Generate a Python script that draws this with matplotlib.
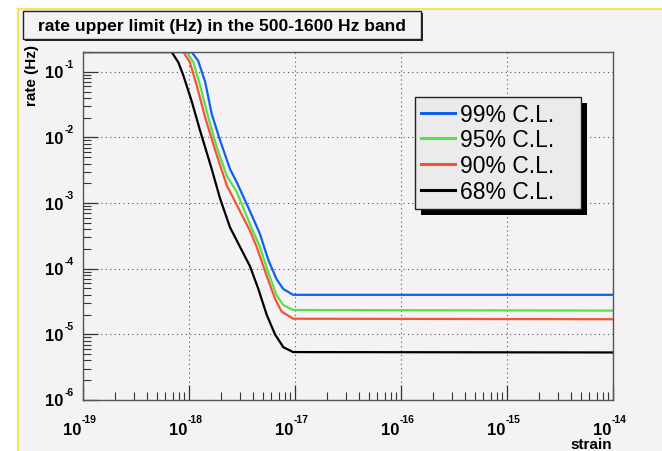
import matplotlib
matplotlib.use("Agg")
import matplotlib.pyplot as plt
from matplotlib.patches import Rectangle
from matplotlib.lines import Line2D
from matplotlib.ticker import LogLocator, NullFormatter, FixedLocator

plt.rcParams['font.family'] = ['Liberation Sans', 'DejaVu Sans']

# Upper limit curves: strain amplitude vs. event rate (Hz)
strain_99 = [1e-19, 1.06e-18, 1.22e-18, 1.42e-18, 1.64e-18, 1.96e-18, 2.44e-18, 2.82e-18,
             3.76e-18, 4.67e-18, 5.6e-18, 6.71e-18, 7.76e-18, 9.6e-18, 1.05e-17, 1e-14]
rate_99 = [0.2, 0.2, 0.147, 0.0703, 0.0226, 9.1e-3, 3.28e-3, 2.08e-3,
           7.5e-4, 3.39e-4, 1.36e-4, 6.9e-5, 4.9e-5, 4.0e-5, 4.0e-5, 4.0e-5]

strain_95 = [1e-19, 9.51e-19, 1.10e-18, 1.27e-18, 1.52e-18, 1.82e-18, 2.27e-18, 2.82e-18,
             3.76e-18, 4.67e-18, 5.6e-18, 6.71e-18, 7.76e-18, 9.6e-18, 1e-14]
rate_95 = [0.2, 0.2, 0.139, 0.0628, 0.0202, 7.26e-3, 2.61e-3, 1.48e-3,
           4.76e-4, 2.15e-4, 8.68e-5, 3.92e-5, 2.79e-5, 2.35e-5, 2.3e-5]

strain_90 = [1e-19, 8.84e-19, 1.02e-18, 1.18e-18, 1.42e-18, 1.76e-18, 2.27e-18, 2.82e-18,
             3.76e-18, 4.35e-18, 5.41e-18, 6.48e-18, 7.48e-18, 9.6e-18, 1e-14]
rate_90 = [0.2, 0.2, 0.139, 0.0628, 0.0202, 6.48e-3, 1.86e-3, 9.4e-4,
           3.79e-4, 2.15e-4, 7.74e-5, 3.49e-5, 2.22e-5, 1.73e-5, 1.7e-5]

strain_68 = [1e-19, 6.86e-19, 7.93e-19, 8.84e-19, 1.06e-18, 1.27e-18, 1.64e-18, 1.96e-18,
             2.44e-18, 3.03e-18, 3.76e-18, 4.51e-18, 5.41e-18, 6.48e-18, 7.76e-18, 9.6e-18, 1e-14]
rate_68 = [0.2, 0.2, 0.139, 0.0882, 0.0356, 0.0128, 3.28e-3, 1.18e-3,
           4.25e-4, 2.15e-4, 1.09e-4, 4.91e-5, 1.98e-5, 1.0e-5, 6.37e-6, 5.37e-6, 5.3e-6]

labels = ["99% C.L.", "95% C.L.", "90% C.L.", "68% C.L."]
colors = ["#1060f0", "#58e048", "#f25535", "#000000"]

# decade ticks (exponents of ten)
x_exponents = [-19, -18, -17, -16, -15, -14]
y_exponents = [-6, -5, -4, -3, -2, -1]

title = "rate upper limit (Hz) in the 500-1600 Hz band"
xlabel = "strain"
ylabel = "rate (Hz)"

W, H = 662, 452
fig = plt.figure(figsize=(W / 100, H / 100), dpi=100, facecolor="white")

bg = "#f4f2f5"
# canvas pad with yellow top/left border
fig.patches.append(Rectangle((18 / W, 0), 1 - 18 / W, 1 - 10 / H, transform=fig.transFigure,
                             facecolor=bg, edgecolor="none", zorder=-5))
fig.add_artist(Line2D([18 / W, 18 / W], [0, 1 - 10 / H], color="#f7e65a", lw=1.6,
                      transform=fig.transFigure, zorder=-4))
fig.add_artist(Line2D([18 / W, 1], [1 - 10 / H, 1 - 10 / H], color="#f7e65a", lw=1.6,
                      transform=fig.transFigure, zorder=-4))

ax = fig.add_axes([83 / W, 1 - 401 / H, (613 - 83) / W, (401 - 53) / H])
ax.set_facecolor(bg)

series = [(strain_99, rate_99), (strain_95, rate_95), (strain_90, rate_90), (strain_68, rate_68)]
for (sx, sy), lab, c in zip(series, labels, colors):
    ax.plot(sx, sy, color=c, lw=1.6, label=lab, solid_joinstyle="round")

ax.set_xscale("log")
ax.set_yscale("log")
ax.set_xlim(1e-19, 1e-14)
ax.set_ylim(1e-6, 0.2)

xmajor = [10.0 ** e for e in x_exponents]
ymajor = [10.0 ** e for e in y_exponents]
ax.xaxis.set_major_locator(FixedLocator(xmajor))
ax.yaxis.set_major_locator(FixedLocator(ymajor))
ax.xaxis.set_minor_locator(LogLocator(base=10, subs=range(2, 10), numticks=20))
ax.yaxis.set_minor_locator(LogLocator(base=10, subs=range(2, 10), numticks=20))
for axis in (ax.xaxis, ax.yaxis):
    axis.set_major_formatter(NullFormatter())
    axis.set_minor_formatter(NullFormatter())

ax.tick_params(which="major", direction="in", length=11, width=0.9, color="#333333",
               top=False, right=False)
ax.tick_params(which="minor", direction="in", length=5.5, width=0.8, color="#333333",
               top=False, right=False)

# ROOT-style power-of-ten labels: large "10" with a raised small exponent
base_kw = dict(fontsize=12, fontweight="bold", annotation_clip=False)
exp_kw = dict(fontsize=7.5, fontweight="bold", annotation_clip=False)
for e, v in zip(x_exponents, xmajor):
    ax.annotate("10", xy=(v, 0), xycoords=("data", "axes fraction"),
                xytext=(-2, -22), textcoords="offset pixels", ha="right", va="top", **base_kw)
    ax.annotate(str(e), xy=(v, 0), xycoords=("data", "axes fraction"),
                xytext=(-1, -22), textcoords="offset pixels", ha="left", va="baseline", **exp_kw)
for e, v in zip(y_exponents, ymajor):
    ax.annotate("10", xy=(0, v), xycoords=("axes fraction", "data"),
                xytext=(-20, -1), textcoords="offset pixels", ha="right", va="center", **base_kw)
    ax.annotate(str(e), xy=(0, v), xycoords=("axes fraction", "data"),
                xytext=(-18, 5), textcoords="offset pixels", ha="left", va="baseline", **exp_kw)

ax.grid(True, which="major", linestyle=(0, (1, 3)), color="#555555", lw=0.8)
for sp in ax.spines.values():
    sp.set_color("#555555")
    sp.set_linewidth(1.0)

fig.text(612 / W, 1 - 449 / H, xlabel, ha="right", va="baseline", fontsize=11,
         fontweight="bold")
fig.text(32 / W, 1 - 45 / H, ylabel, ha="center", va="top", rotation=90, fontsize=11,
         fontweight="bold")

# title box with shadow
tx0, tx1, ty0, ty1 = 23, 421, 12, 40
fig.patches.append(Rectangle(((tx0 + 2) / W, 1 - (ty1 + 2) / H), (tx1 - tx0) / W,
                             (ty1 - ty0) / H, transform=fig.transFigure,
                             facecolor="#222222", edgecolor="none", zorder=2))
fig.patches.append(Rectangle((tx0 / W, 1 - ty1 / H), (tx1 - tx0) / W, (ty1 - ty0) / H,
                             transform=fig.transFigure, facecolor=bg, edgecolor="#222222",
                             lw=1.0, zorder=3))
fig.text((tx0 + tx1) / 2 / W, 1 - (ty0 + ty1) / 2 / H, title, ha="center", va="center",
         fontsize=12.6, fontweight="bold", zorder=4)

lx0 = (415 - 83) / 530
ly1 = 1 - (98 - 53) / 348
lw_ = (581 - 415) / 530
lh_ = (210 - 98) / 348
leg = ax.legend(loc="upper left", bbox_to_anchor=(lx0, ly1 - lh_, lw_, lh_), mode="expand",
                borderaxespad=0, fontsize=16.5, handlelength=1.5, handletextpad=0.2,
                borderpad=0.25, labelspacing=0.12, frameon=True, fancybox=False,
                facecolor="#ebebeb", edgecolor="#222222", framealpha=1)
leg.get_frame().set_linewidth(1.0)
for h in leg.legend_handles:
    h.set_linewidth(2.2)

fig.canvas.draw()
bb = leg.get_window_extent()
ax.add_artist(Rectangle((bb.x0 + 6, bb.y0 - 6), bb.width, bb.height, transform=None,
                        facecolor="black", edgecolor="none", zorder=4.5, clip_on=False))

fig.savefig("out.png", dpi=100, facecolor="white")
